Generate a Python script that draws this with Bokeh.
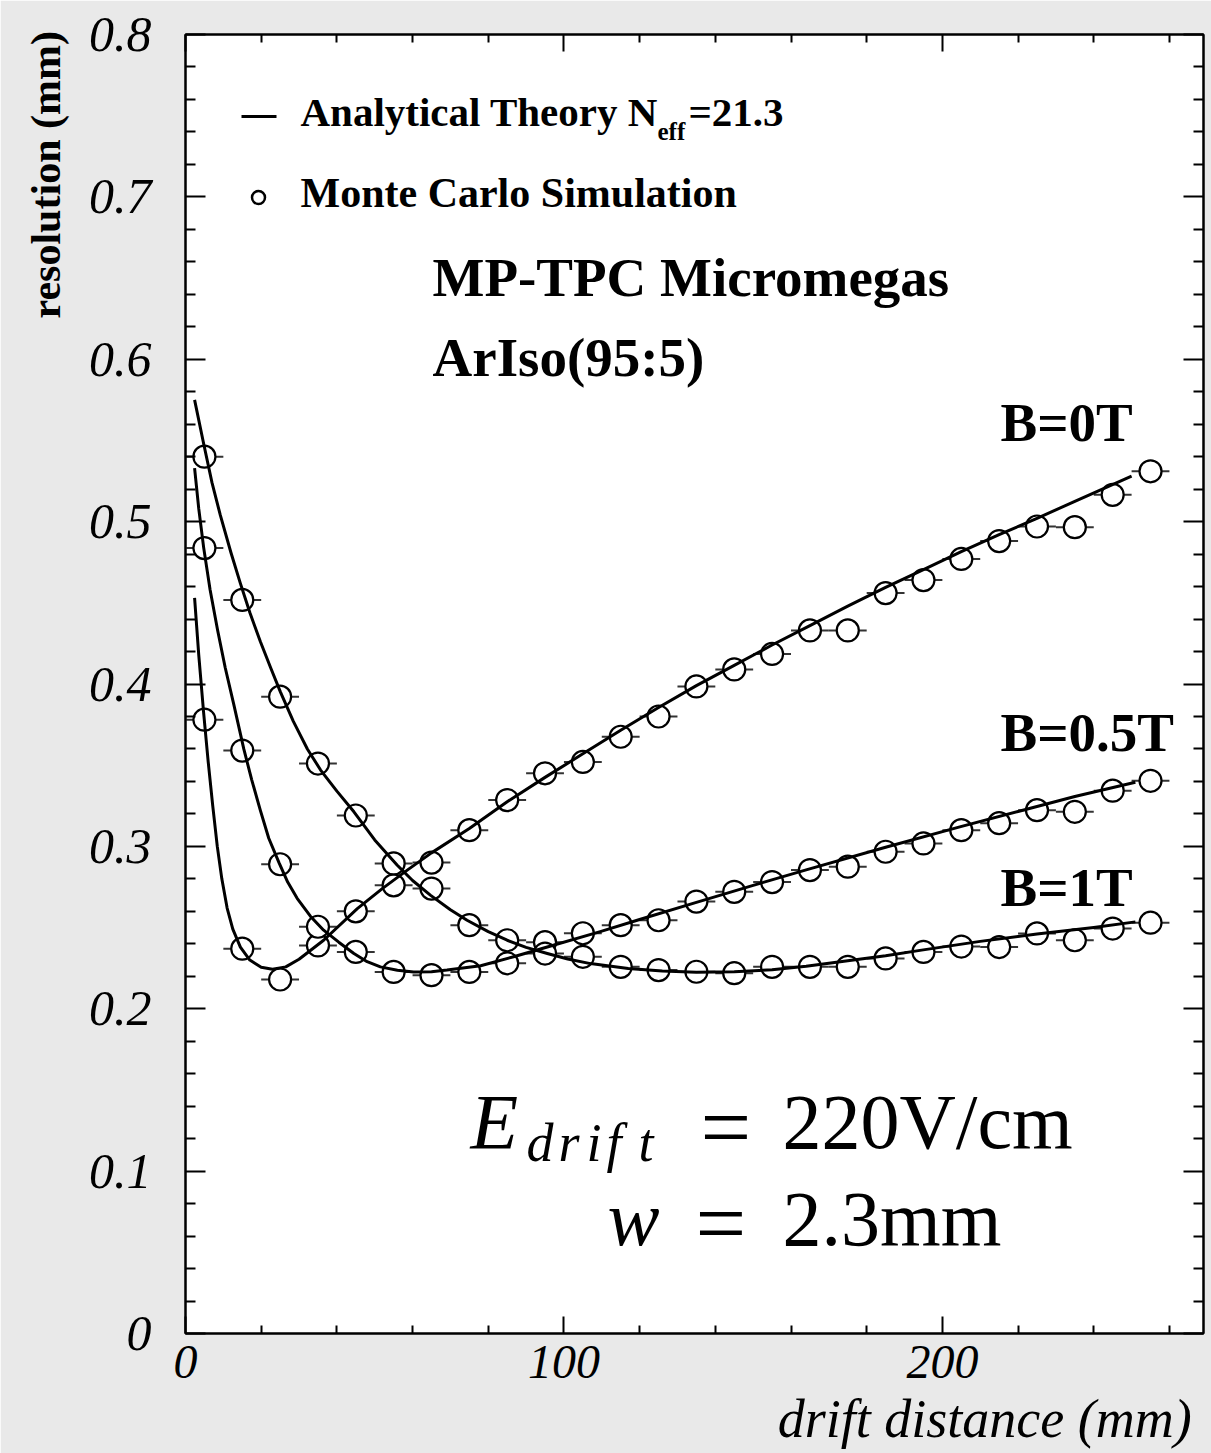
from bokeh.plotting import figure
from bokeh.models import Label, LinearAxis, FixedTicker, Range1d, ColumnDataSource
from bokeh.embed import file_html
from bokeh.resources import INLINE

# ---------------- data ----------------
mc_x = [5, 15, 25, 35, 45, 55, 65, 75, 85, 95, 105, 115, 125, 135, 145, 155,
        165, 175, 185, 195, 205, 215, 225, 235, 245, 255]
x_half_bin = 5

mc_b0 = [0.378, 0.237, 0.218, 0.239, 0.260, 0.276, 0.290, 0.310, 0.3285, 0.345,
         0.352, 0.3675, 0.380, 0.3985, 0.409, 0.4185, 0.433, 0.433, 0.456, 0.464,
         0.477, 0.488, 0.497, 0.4966, 0.5165, 0.531]
mc_b05 = [0.4837, 0.359, 0.289, 0.2505, 0.235, 0.2227, 0.2207, 0.2227, 0.228, 0.241,
          0.2465, 0.2515, 0.2545, 0.266, 0.272, 0.278, 0.2854, 0.2875, 0.2967, 0.3018,
          0.310, 0.3143, 0.3223, 0.3213, 0.3343, 0.3404]
mc_b1 = [0.540, 0.4518, 0.3922, 0.351, 0.319, 0.2895, 0.274, 0.2515, 0.2422, 0.234,
         0.232, 0.2258, 0.2238, 0.2228, 0.2219, 0.2258, 0.2258, 0.2258, 0.231, 0.235,
         0.2383, 0.238, 0.2464, 0.2422, 0.2494, 0.253]

th_b0_x = [2.4, 3.5, 4.8, 6.0, 7.2, 8.4, 9.6, 11, 12.5, 14.5, 17, 20, 23, 26.5, 30,
           36.5, 45.4, 52, 58.6, 65, 75, 85, 95, 105, 115, 125, 135, 145, 155, 165,
           175, 185, 195, 205, 215, 225, 235, 250]
th_b0_y = [0.453, 0.418, 0.382, 0.352, 0.325, 0.300, 0.280, 0.262, 0.249, 0.238,
           0.230, 0.2255, 0.2243, 0.2258, 0.2305, 0.2422, 0.2617, 0.274, 0.2854, 0.296,
           0.311, 0.3275, 0.3425, 0.357, 0.3715, 0.3855, 0.399, 0.4115, 0.424, 0.436,
           0.448, 0.4595, 0.4705, 0.4815, 0.492, 0.502, 0.5125, 0.528]

th_b05_x = [2.4, 3.5, 4.8, 6.5, 8.5, 10.5, 12.8, 15.4, 17.5, 19.8, 22, 24.7, 27, 29.5,
            33, 36.5, 40.5, 44.5, 48, 51.5, 56, 60.3, 65, 69.1, 78, 86.7, 95.6, 109.6,
            120, 135, 150, 164, 185, 204.6, 220, 235, 251]
th_b05_y = [0.533, 0.508, 0.484, 0.458, 0.433, 0.410, 0.387, 0.360, 0.341, 0.322,
            0.305, 0.290, 0.278, 0.268, 0.257, 0.2484, 0.241, 0.234, 0.229, 0.2258,
            0.2237, 0.2227, 0.2228, 0.2238, 0.2265, 0.232, 0.238, 0.2475, 0.255, 0.2655,
            0.276, 0.2855, 0.2995, 0.312, 0.3215, 0.3307, 0.3395]

th_b1_x = [2.4, 4.8, 7, 9.2, 12, 14.5, 17, 19.8, 22.5, 25.1, 28.5, 32.2, 35.7, 40,
           44.5, 50, 55.9, 60, 64.7, 70, 74.4, 80, 85, 90, 95.6, 101, 107, 117, 126,
           135, 145, 155, 164, 175, 185, 194.5, 210, 225, 240, 251]
th_b1_y = [0.575, 0.548, 0.524, 0.504, 0.481, 0.462, 0.444, 0.426, 0.410, 0.395,
           0.377, 0.360, 0.347, 0.334, 0.3213, 0.304, 0.2885, 0.279, 0.270, 0.261,
           0.2545, 0.2475, 0.2422, 0.2378, 0.234, 0.2306, 0.2278, 0.2248, 0.2232, 0.2225,
           0.2228, 0.2240, 0.2262, 0.2295, 0.2326, 0.2361, 0.2415, 0.246, 0.250, 0.2535]

x_major = [0, 100, 200]
x_minor = [20, 40, 60, 80, 120, 140, 160, 180, 220, 240, 260]
x_labels = ["0", "100", "200"]
y_major = [0, 0.1, 0.2, 0.3, 0.4, 0.5, 0.6, 0.7, 0.8]
y_minor = [0.02, 0.04, 0.06, 0.08, 0.12, 0.14, 0.16, 0.18, 0.22, 0.24, 0.26, 0.28,
           0.32, 0.34, 0.36, 0.38, 0.42, 0.44, 0.46, 0.48, 0.52, 0.54, 0.56, 0.58,
           0.62, 0.64, 0.66, 0.68, 0.72, 0.74, 0.76, 0.78]
y_labels = ["0", "0.1", "0.2", "0.3", "0.4", "0.5", "0.6", "0.7", "0.8"]
x_title = "drift distance (mm)"
y_title = "resolution (mm)"

# ---------------- layout ----------------
X0, X1 = 0, 269
Y0, Y1 = 0, 0.8
FW, FH = 1018, 1299
BL, BT, BB, BR = 185, 34, 120, 8
FRAME_L = BL
FRAME_T = BT
BASE_SHIFT = 0.37  # em offset between requested and drawn baseline
NBSP = "\u00a0"


def sx(px):
    return X0 + (px - FRAME_L) / FW * (X1 - X0)


def sy(py):
    return Y0 + (FRAME_T + FH - py) / FH * (Y1 - Y0)


SERIF = "Liberation Serif"
BG = "#e9e9e9"

p = figure(frame_width=FW, frame_height=FH,
           x_range=Range1d(X0, X1), y_range=Range1d(Y0, Y1),
           output_backend="svg", toolbar_location=None,
           min_border_left=BL, min_border_right=BR, min_border_top=BT,
           min_border_bottom=BB,
           background_fill_color="white", border_fill_color=BG,
           outline_line_color="black", outline_line_width=2)
p.grid.visible = False

xt = FixedTicker(ticks=x_major, minor_ticks=x_minor)
yt = FixedTicker(ticks=y_major, minor_ticks=y_minor)


def style_axis(ax, major_len, minor_len, size):
    ax.axis_line_color = "black"
    ax.axis_line_width = 2
    ax.major_tick_in = major_len
    ax.major_tick_out = 0
    ax.minor_tick_in = minor_len
    ax.minor_tick_out = 0
    ax.major_tick_line_width = 2
    ax.minor_tick_line_width = 2
    ax.major_tick_line_color = "black"
    ax.minor_tick_line_color = "black"
    ax.major_label_text_font = SERIF
    ax.major_label_text_font_style = "italic"
    ax.major_label_text_font_size = size
    ax.major_label_text_color = "black"


xa = p.xaxis[0]
xa.ticker = xt
style_axis(xa, 17, 8, "48px")
xa.major_label_overrides = {v: s for v, s in zip(x_major, x_labels)}
xa.major_label_standoff = 12
# title right-aligned near the frame's right end: centred label, left-padded
xa.axis_label = NBSP * 43 + x_title
xa.axis_label_text_font = SERIF
xa.axis_label_text_font_style = "italic"
xa.axis_label_text_font_size = "54px"
xa.axis_label_text_color = "black"
xa.axis_label_standoff = 8

ya = p.yaxis[0]
ya.ticker = yt
style_axis(ya, 20, 10, "50px")
ya.major_label_overrides = {v: s for v, s in zip(y_major, y_labels)}
ya.major_label_standoff = 34
# title placed at the top end of the axis: centred label, padded at its start
ya.axis_label = NBSP * 97 + y_title
ya.axis_label_text_font = SERIF
ya.axis_label_text_font_style = "bold"
ya.axis_label_text_font_size = "42px"
ya.axis_label_text_color = "black"
ya.axis_label_standoff = 17

top = LinearAxis(ticker=xt)
style_axis(top, 17, 8, "0px")
top.major_label_overrides = {v: "" for v in x_major}
top.major_label_standoff = 0
p.add_layout(top, "above")

right = LinearAxis(ticker=yt)
style_axis(right, 20, 10, "0px")
right.major_label_overrides = {v: "" for v in y_major}
right.major_label_standoff = 0
p.add_layout(right, "right")

# ---------------- data marks ----------------
for ys in (mc_b0, mc_b05, mc_b1):
    src = ColumnDataSource(dict(
        x=mc_x, y=ys,
        x0=[v - x_half_bin for v in mc_x],
        x1=[v + x_half_bin for v in mc_x]))
    p.segment(x0="x0", x1="x1", y0="y", y1="y", source=src,
              line_color="#333333", line_width=2)
    p.scatter(x="x", y="y", source=src, marker="circle", size=22,
              fill_color="white", line_color="black", line_width=2.2)

for xs, ys in ((th_b0_x, th_b0_y), (th_b05_x, th_b05_y), (th_b1_x, th_b1_y)):
    p.line(xs, ys, line_color="black", line_width=3, line_join="round")

# ---------------- legend (drawn) ----------------
p.line([sx(241), sx(276)], [sy(116), sy(116)], line_color="black", line_width=3)
p.scatter([sx(258)], [sy(197)], marker="circle", size=13, fill_color="white",
          line_color="black", line_width=2.5)


def lab(text, px, py, size, style="normal", align="left"):
    p.add_layout(Label(x=sx(px), y=sy(py - BASE_SHIFT * size), text=text,
                       text_font=SERIF, text_font_size=f"{size}px",
                       text_font_style=style, text_align=align,
                       text_baseline="alphabetic", text_color="black"))


lab("Analytical Theory N", 300, 127, 41, "bold")
lab("eff", 657, 140, 25, "bold")
lab("=21.3", 688, 127, 41, "bold")
lab("Monte Carlo Simulation", 300, 208, 42, "bold")

lab("MP-TPC Micromegas", 432, 297, 55, "bold")
lab("ArIso(95:5)", 432, 377, 55, "bold")
lab("B=0T", 1000, 442, 55, "bold")
lab("B=0.5T", 1000, 752, 55, "bold")
lab("B=1T", 1000, 907, 55, "bold")

# E_drift = 220V/cm ; w = 2.3mm
lab("E", 470, 1150, 78, "italic")
for ch, px in zip("drift", [526, 558, 586, 606, 638]):
    lab(ch, px, 1162, 54, "italic")
lab("=", 700, 1160, 90)
lab("220V/cm", 782, 1150, 78)
lab("w", 607, 1247, 78, "italic")
lab("=", 695, 1256, 90)
lab("2.3mm", 782, 1247, 78)

open("out.html", "w").write(file_html(p, INLINE))
